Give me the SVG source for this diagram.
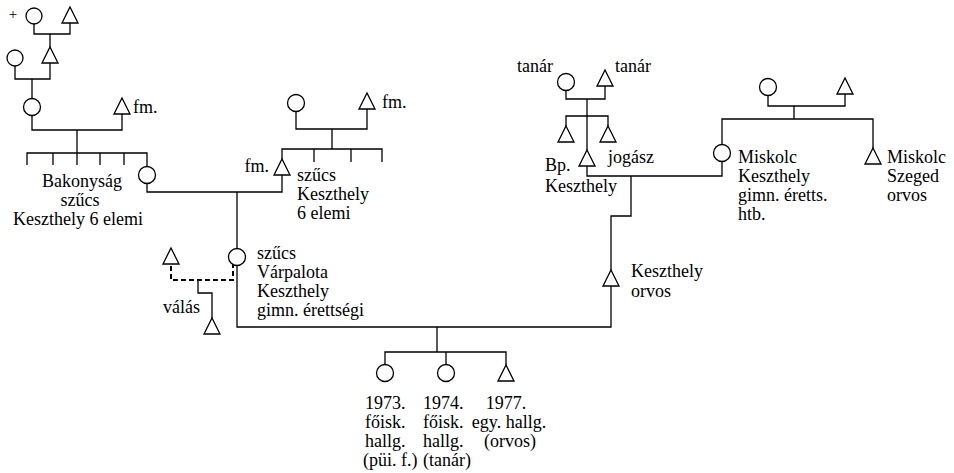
<svg xmlns="http://www.w3.org/2000/svg" width="954" height="473" viewBox="0 0 954 473">
<style>
.c{fill:#fff;stroke:#000;stroke-width:1.3}
.t{fill:#fff;stroke:#000;stroke-width:1.3;stroke-linejoin:miter}
.l{fill:none;stroke:#000;stroke-width:1.3}
.d{fill:none;stroke:#000;stroke-width:2;stroke-dasharray:5 3}
text{font-family:"Liberation Serif","Times New Roman",serif;font-size:18px;fill:#000}
.m{text-anchor:middle}
.e{text-anchor:end}
</style>
<defs>
<polygon id="tri" points="0,0 8,16 -8,16"/>
</defs>
<rect width="954" height="473" fill="#fff"/>
<g id="connectors">
<path class="l" d="M34 24V34H70V23M50 34V47"/>
<path class="l" d="M15 66V79H50V63M32 79V98.5"/>
<path class="l" d="M32 115.5V130H122V114M77 130V165M27 165V153H147V166.5M53 153V165M100 153V165M124 153V165"/>
<path class="l" d="M147 183.5V192H282V175"/>
<path class="l" d="M296 111.5V129H367V109M332 129V149M282 159V149H382V162M314 149V162M351 149V162"/>
<path class="l" d="M237 192V248.5M237 265.5V327H611V286M611 270V216H631V176M587 165V176H722V161.5"/>
<path class="l" d="M566 90.5V99H605V86M587 99V150M566 126V116H608V126"/>
<path class="l" d="M768 95.5V106H845V94M794 106V119M722 144.5V119H873V148"/>
<path class="d" d="M233 263V280H171V263"/>
<path class="l" d="M198 280V293H212V318"/>
<path class="l" d="M437 327V352M385 364.5V352H506V365M446 352V364.5"/>
</g>
<g id="n-gg-f"><circle class="c" cx="34" cy="16" r="8"/><text class="m" x="13" y="19" style="font-size:15px">+</text></g>
<g id="n-gg-m"><use href="#tri" class="t" x="70" y="7"/></g>
<g id="n-g-f"><circle class="c" cx="15" cy="58" r="8"/></g>
<g id="n-g-m"><use href="#tri" class="t" x="50" y="47"/></g>
<g id="n-mgm"><circle class="c" cx="32" cy="107" r="8.5"/></g>
<g id="n-mgf"><use href="#tri" class="t" x="122" y="98"/><text x="133" y="113">fm.</text></g>
<g id="n-siblings-label"><text class="m" x="82" y="187">Bakonyság</text><text class="m" x="80" y="206">szűcs</text><text class="m" x="78" y="225">Keszthely 6 elemi</text></g>
<g id="n-mgm2"><circle class="c" cx="147" cy="175" r="8.5"/></g>
<g id="n-pgm"><circle class="c" cx="296" cy="103" r="8.5"/></g>
<g id="n-pgf"><use href="#tri" class="t" x="367" y="93"/><text x="382" y="108">fm.</text></g>
<g id="n-mgf2"><use href="#tri" class="t" x="282" y="159"/><text class="e" x="269" y="172">fm.</text><text x="297" y="181">szűcs</text><text x="297" y="200">Keszthely</text><text x="297" y="219">6 elemi</text></g>
<g id="n-mother"><circle class="c" cx="237" cy="257" r="8.5"/><text x="257" y="259">szűcs</text><text x="257" y="278">Várpalota</text><text x="257" y="297">Keszthely</text><text x="257" y="316">gimn. érettségi</text></g>
<g id="n-ex"><use href="#tri" class="t" x="171" y="248"/></g>
<g id="n-halfsib"><use href="#tri" class="t" x="212" y="318"/><text x="163" y="313">válás</text></g>
<g id="n-father"><use href="#tri" class="t" x="611" y="270"/><text x="631" y="277">Keszthely</text><text x="631" y="297">orvos</text></g>
<g id="n-ff-m"><circle class="c" cx="566" cy="82" r="8.5"/><text x="517" y="72">tanár</text></g>
<g id="n-ff-f"><use href="#tri" class="t" x="605" y="70"/><text x="615" y="72">tanár</text></g>
<g id="n-ff-s1"><use href="#tri" class="t" x="566" y="126"/></g>
<g id="n-ff-s2"><use href="#tri" class="t" x="608" y="126"/></g>
<g id="n-fgf"><use href="#tri" class="t" x="587" y="150"/><text x="608" y="163">jogász</text><text x="545" y="171">Bp.</text><text x="545" y="192">Keszthely</text></g>
<g id="n-fm-m"><circle class="c" cx="768" cy="87" r="8.5"/></g>
<g id="n-fm-f"><use href="#tri" class="t" x="845" y="78"/></g>
<g id="n-fgm"><circle class="c" cx="722" cy="153" r="8.5"/><text x="738" y="163">Miskolc</text><text x="738" y="182">Keszthely</text><text x="738" y="201">gimn. éretts.</text><text x="738" y="220">htb.</text></g>
<g id="n-uncle"><use href="#tri" class="t" x="873" y="148"/><text x="887" y="163">Miskolc</text><text x="887" y="182">Szeged</text><text x="887" y="201">orvos</text></g>
<g id="n-c1"><circle class="c" cx="385" cy="373" r="8.5"/><text x="365" y="409">1973.</text><text x="365" y="428">főisk.</text><text x="365" y="447">hallg.</text><text x="363" y="466">(püi. f.)</text></g>
<g id="n-c2"><circle class="c" cx="446" cy="373" r="8.5"/><text x="423" y="409">1974.</text><text x="423" y="428">főisk.</text><text x="423" y="447">hallg.</text><text x="423" y="466">(tanár)</text></g>
<g id="n-c3"><use href="#tri" class="t" x="506" y="365"/><text class="m" x="506" y="409">1977.</text><text class="m" x="509" y="428">egy. hallg.</text><text class="m" x="510" y="447">(orvos)</text></g>
</svg>
